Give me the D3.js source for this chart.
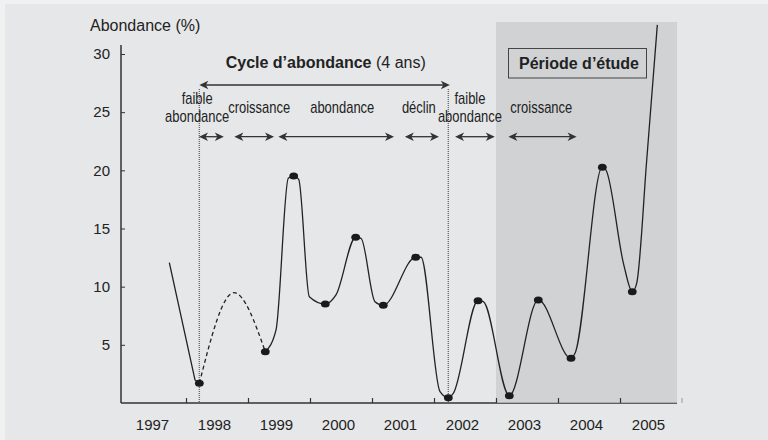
<!DOCTYPE html>
<html>
<head>
<meta charset="utf-8">
<script src="https://cdn.jsdelivr.net/npm/d3@7"></script>
<style>
  body { margin: 0; background: #f1f1f1; }
  svg { display: block; font-family: "Liberation Sans", Arial, sans-serif; }
</style>
</head>
<body>
<svg width="768" height="440"></svg>
<script>
// Abundance trace (time in decimal years, abundance in %)
const times = [1997.731, 1998.145, 1998.215, 1998.774, 1999.279, 1999.452, 1999.650, 1999.737,
    1999.818, 1999.989, 2000.247, 2000.419, 2000.737, 2000.823, 2001.048, 2001.182, 2001.705,
    2001.790, 2002.097, 2002.231, 2002.311, 2002.710, 2002.795, 2003.215, 2003.682, 2004.210,
    2004.274, 2004.715, 2004.774, 2005.060, 2005.198, 2005.269, 2005.431, 2005.602];
const abondance = [12.06, 1.98, 1.69, 9.48, 4.41, 6.28, 19.32, 19.52, 19.23, 9.14, 8.51, 9.29,
    14.25, 14.16, 8.71, 8.40, 12.53, 12.53, 0.97, 0.46, 0.83, 8.80, 8.71, 0.63, 8.86, 3.84,
    4.27, 20.27, 20.03, 11.9, 9.57, 10.29, 20.89, 32.5];

// points marked with a dot, and the stretch drawn dashed
const marked = [2, 4, 7, 10, 12, 15, 16, 19, 21, 23, 24, 25, 27, 30];
const dashedFrom = 2, dashedTo = 4;

// axes
const years = [1997, 1998, 1999, 2000, 2001, 2002, 2003, 2004, 2005];
const yTicks = [5, 10, 15, 20, 25, 30];

// annotations (in years)
const cycle = [1998.215, 2002.231];
const studyPeriod = [2003, 2005.92];
const phaseLabels = [["faible", "abondance"], ["croissance"], ["abondance"], ["déclin"], ["faible", "abondance"], ["croissance"]];
const phaseStart = [1998.21, 1998.78, 1999.49, 2001.53, 2002.34, 2003.20];
const phaseEnd = [1998.61, 1999.42, 2001.355, 2002.08, 2002.98, 2004.30];
const phaseLabelAt = [1998.18, 1999.18, 2000.52, 2001.755, 2002.58, 2003.73];

var svg = d3.select("svg");

var x = d3.scaleLinear().domain([1997, 2006]).range([124, 682]);
var y = d3.scaleLinear().domain([0, 30]).range([403, 54]);

const ink = "#222";

// panel
svg.append("rect").attr("x", 5).attr("y", 4).attr("width", 763).attr("height", 436).attr("fill", "#e6e7e9");

// arrowhead shape pointing left, tip at origin
function arrowHead(g, px, py, dir) {
    g.append("path")
        .attr("d", "M0,0 L9,-4.2 L6.5,0 L9,4.2 Z")
        .attr("transform", `translate(${px},${py}) scale(${dir},1)`)
        .attr("fill", "#333");
}
function doubleArrow(g, x0, x1, yy) {
    g.append("line").attr("x1", x0 + 4).attr("x2", x1 - 4).attr("y1", yy).attr("y2", yy)
        .attr("stroke", "#333").attr("stroke-width", 1.3);
    arrowHead(g, x0, yy, 1);
    arrowHead(g, x1, yy, -1);
}

// axis line (under the study shading)
svg.append("line").attr("x1", 121).attr("x2", 677).attr("y1", y(0)).attr("y2", y(0))
    .attr("stroke", "#333").attr("stroke-width", 1.5);

// study period shading
svg.append("rect")
    .attr("x", x(studyPeriod[0])).attr("y", 22)
    .attr("width", x(studyPeriod[1]) - x(studyPeriod[0])).attr("height", y(0) - 22)
    .attr("fill", "#c9cacc").attr("opacity", 0.72);

svg.append("line").attr("x1", 121).attr("x2", 121).attr("y1", 45).attr("y2", y(0))
    .attr("stroke", "#333").attr("stroke-width", 1.5);

// y axis ticks and labels
var yAxis = svg.append("g").attr("transform", "translate(121,0)")
    .call(d3.axisLeft(y).tickValues(yTicks).tickSizeInner(-4).tickSizeOuter(0).tickPadding(11));
yAxis.select(".domain").remove();
yAxis.selectAll("line").attr("stroke", "#333");
yAxis.selectAll("text").attr("font-size", 15).attr("font-family", "Liberation Sans, Arial, sans-serif").attr("fill", ink);

// x axis ticks
var xAxis = svg.append("g").attr("transform", `translate(0,${y(0)})`)
    .call(d3.axisBottom(x).tickValues(years.slice(1)).tickSizeInner(-5).tickSizeOuter(0).tickFormat(""));
xAxis.select(".domain").remove();
xAxis.selectAll("line").attr("stroke", "#333").attr("stroke-width", 1.2);
svg.append("line").attr("x1", x(2006)).attr("x2", x(2006)).attr("y1", y(0) - 5).attr("y2", y(0))
    .attr("stroke", "#999");

svg.append("g").selectAll("text")
    .data(years).enter().append("text")
    .attr("x", d => x(d + 0.46)).attr("y", 430)
    .attr("text-anchor", "middle").attr("font-size", 15).attr("fill", ink)
    .text(d => d);

svg.append("text").attr("x", 90).attr("y", 31).attr("font-size", 16).attr("fill", ink)
    .text("Abondance (%)");

// cycle boundaries
svg.append("g").selectAll("line")
    .data(cycle).enter().append("line")
    .attr("x1", d => x(d)).attr("x2", d => x(d)).attr("y1", 89).attr("y2", y(0))
    .attr("stroke", "#6a6a6a").attr("stroke-width", 1.4).attr("stroke-dasharray", "1,1");

var ann = svg.append("g");
doubleArrow(ann, x(cycle[0]), x(cycle[1]) + 1.5, 85);

var cycleText = svg.append("text").attr("x", 225.7).attr("y", 68).attr("font-size", 16).attr("fill", ink);
cycleText.append("tspan").attr("font-weight", "bold").text("Cycle d’abondance");
cycleText.append("tspan").text(" (4 ans)");

// phases
phaseStart.forEach((s, i) => doubleArrow(ann, x(s), x(phaseEnd[i]), 136.7));
phaseLabels.forEach((lines, i) => {
    var baselines = lines.length === 2 ? [103.5, 122] : [113];
    lines.forEach((txt, j) => {
        svg.append("text")
            .attr("transform", `translate(${x(phaseLabelAt[i])},${baselines[j]}) scale(0.81,1)`)
            .attr("text-anchor", "middle").attr("font-size", 16).attr("fill", ink)
            .text(txt);
    });
});

// study period label
svg.append("rect").attr("x", 508.5).attr("y", 48.5).attr("width", 138).attr("height", 29.5)
    .attr("fill", "none").attr("stroke", "#444").attr("stroke-width", 1);
svg.append("text").attr("x", 579).attr("y", 68.5).attr("text-anchor", "middle")
    .attr("font-size", 16).attr("font-weight", "bold").attr("fill", ink)
    .text("Période d’étude");

// the abundance curve
var pts = times.map((t, i) => [t, abondance[i]]);
var line = d3.line().x(d => x(d[0])).y(d => y(d[1])).curve(d3.curveMonotoneX);
var straight = d3.line().x(d => x(d[0])).y(d => y(d[1]));

svg.append("path").attr("d", straight(pts.slice(0, dashedFrom + 1)))
    .attr("fill", "none").attr("stroke", ink).attr("stroke-width", 1.3);
svg.append("path").attr("d", line(pts.slice(dashedFrom, dashedTo + 1)))
    .attr("fill", "none").attr("stroke", ink).attr("stroke-width", 1.3).attr("stroke-dasharray", "4,3");
svg.append("path").attr("d", line(pts.slice(dashedTo)))
    .attr("fill", "none").attr("stroke", ink).attr("stroke-width", 1.3);

svg.append("g").selectAll("ellipse")
    .data(marked).enter().append("ellipse")
    .attr("cx", i => x(times[i])).attr("cy", i => y(abondance[i]))
    .attr("rx", 4.4).attr("ry", 3.5).attr("fill", "#1a1a1a");
</script>
</body>
</html>
